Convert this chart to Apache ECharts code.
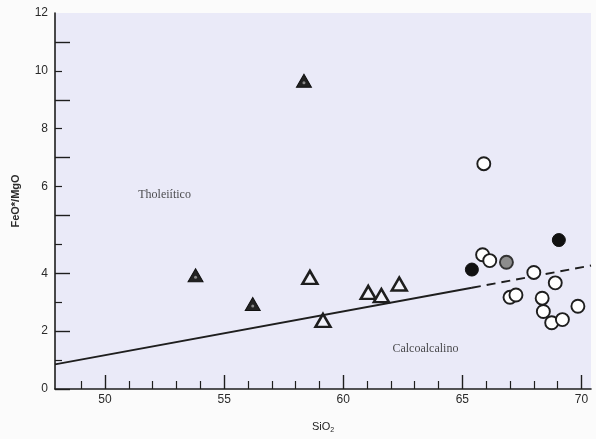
<!DOCTYPE html>
<html>
<head>
<meta charset="utf-8">
<style>
html,body{margin:0;padding:0;background:#fbfbfb;}
#chart{width:596px;height:439px;}
</style>
<script src="https://cdn.jsdelivr.net/npm/echarts@6/dist/echarts.min.js"></script>
</head>
<body>
<div id="chart"></div>
<script>
// y values are in the drawing's own axis units; labels come from yTickLabels
const yLabelValues = [0, 2, 4, 7, 9, 11, 13];
const yTickLabels = ['0', '2', '4', '6', '8', '10', '12'];
const yMajorTicks = [0, 2, 4, 6, 8, 10, 12];
const yMinorTicks = [1, 3, 5, 7, 9, 11];
const xTickLabels = [50, 55, 60, 65, 70];
const xMinorTicks = [49, 51, 52, 53, 54, 56, 57, 58, 59, 61, 62, 63, 64, 66, 67, 68, 69];

const filledTriangles = [[58.35, 10.66], [53.8, 3.93], [56.2, 2.94]];
const openTriangles = [[58.6, 3.86], [59.15, 2.37], [61.05, 3.34], [61.6, 3.23], [62.35, 3.63]];
const openCircles = [[65.9, 7.79], [65.85, 4.64], [66.15, 4.44], [68.0, 4.03], [68.9, 3.67],
  [67.0, 3.17], [67.25, 3.25], [68.35, 3.14], [69.85, 2.86], [68.4, 2.68], [68.75, 2.29], [69.2, 2.40]];
const blackCircles = [[65.4, 4.13], [69.05, 5.15]];
const greyCircles = [[66.85, 4.38]];
const dividerSolid = [[47.9, 0.85], [65.4, 3.5]];
const dividerDashed = [[65.4, 3.5], [70.4, 4.27]];
const regionLabels = [
  { name: 'Tholeiítico', value: [52.5, 6.72] },
  { name: 'Calcoalcalino', value: [63.45, 1.38] }
];

const chart = echarts.init(document.getElementById('chart'), null, { renderer: 'canvas' });
const axisColor = '#1e1e1e';
const option = {
  animation: false,
  backgroundColor: '#fbfbfb',
  grid: { left: 55, right: 5, top: 13, bottom: 46, show: true, backgroundColor: '#eaeaf8', borderWidth: 0 },
  xAxis: [{
    type: 'value', min: 47.9, max: 70.4,
    name: 'SiO{sub|2}', nameLocation: 'middle', nameGap: 30,
    nameTextStyle: { fontFamily: 'Liberation Sans', fontSize: 11, color: '#222',
      rich: { sub: { fontSize: 7, verticalAlign: 'bottom', padding: [8, 0, 0, 0], fontFamily: 'Liberation Sans', color: '#222' } } },
    axisLine: { show: true, lineStyle: { color: axisColor, width: 1.6 } },
    axisTick: { show: true, inside: true, length: 14, customValues: xTickLabels, lineStyle: { color: axisColor, width: 1.4 } },
    axisLabel: { show: true, customValues: xTickLabels, fontFamily: 'Liberation Sans', fontSize: 12, color: '#2a2a2a', margin: 5 },
    splitLine: { show: false }
  }, {
    type: 'value', min: 47.9, max: 70.4, position: 'bottom',
    axisLine: { show: false },
    axisTick: { show: true, inside: true, length: 8, customValues: xMinorTicks, lineStyle: { color: axisColor, width: 1.2 } },
    axisLabel: { show: false },
    splitLine: { show: false }
  }],
  yAxis: [{
    type: 'value', min: 0, max: 13,
    name: 'FeO*/MgO', nameLocation: 'middle', nameGap: 34, nameRotate: 90,
    nameTextStyle: { fontFamily: 'Liberation Sans', fontSize: 11, fontWeight: 'bold', color: '#2a2a2a' },
    axisLine: { show: true, lineStyle: { color: axisColor, width: 1.6 } },
    axisTick: { show: true, inside: true, length: 15, customValues: yMajorTicks, lineStyle: { color: axisColor, width: 1.4 } },
    axisLabel: {
      show: true, customValues: yLabelValues, fontFamily: 'Liberation Sans', fontSize: 12, color: '#2a2a2a', margin: 7,
      formatter: function (v) { const i = yLabelValues.indexOf(v); return i >= 0 ? yTickLabels[i] : ''; }
    },
    splitLine: { show: false }
  }, {
    type: 'value', min: 0, max: 13, position: 'left',
    axisLine: { show: false },
    axisTick: { show: true, inside: true, length: 7, customValues: yMinorTicks, lineStyle: { color: axisColor, width: 1.2 } },
    axisLabel: { show: false },
    splitLine: { show: false }
  }],
  series: [
    { type: 'line', data: dividerSolid, symbol: 'none', lineStyle: { color: '#1e1e1e', width: 1.9 }, z: 2 },
    { type: 'line', data: dividerDashed, symbol: 'none', lineStyle: { color: '#1e1e1e', width: 1.9, type: [9, 6] }, z: 2 },
    { type: 'scatter', data: filledTriangles, symbol: 'triangle', symbolSize: [15, 13],
      itemStyle: { color: '#222', borderColor: '#111', borderWidth: 1, opacity: 1 }, z: 3 },
    { type: 'scatter', data: filledTriangles, symbol: 'circle', symbolSize: 3, symbolOffset: [0, 2],
      itemStyle: { color: '#8a8a8a', opacity: 1 }, z: 4 },
    { type: 'scatter', data: openTriangles, symbol: 'triangle', symbolSize: [15, 13],
      itemStyle: { color: '#f2f2fa', borderColor: '#1e1e1e', borderWidth: 2.5, opacity: 1 }, z: 3 },
    { type: 'scatter', data: openCircles, symbol: 'circle', symbolSize: 13,
      itemStyle: { color: '#ffffff', borderColor: '#1e1e1e', borderWidth: 1.9, opacity: 1 }, z: 3 },
    { type: 'scatter', data: greyCircles, symbol: 'circle', symbolSize: 13,
      itemStyle: { color: '#8c8c8c', borderColor: '#333', borderWidth: 1.9, opacity: 1 }, z: 3 },
    { type: 'scatter', data: blackCircles, symbol: 'circle', symbolSize: 13,
      itemStyle: { color: '#111', borderColor: '#111', borderWidth: 1, opacity: 1 }, z: 3 },
    { type: 'scatter', data: regionLabels, symbolSize: 0, silent: true,
      label: { show: true, position: 'inside', formatter: '{b}', fontFamily: 'Liberation Serif', fontSize: 12, color: '#222' }, z: 5 }
  ]
};
chart.setOption(option);
</script>
</body>
</html>
